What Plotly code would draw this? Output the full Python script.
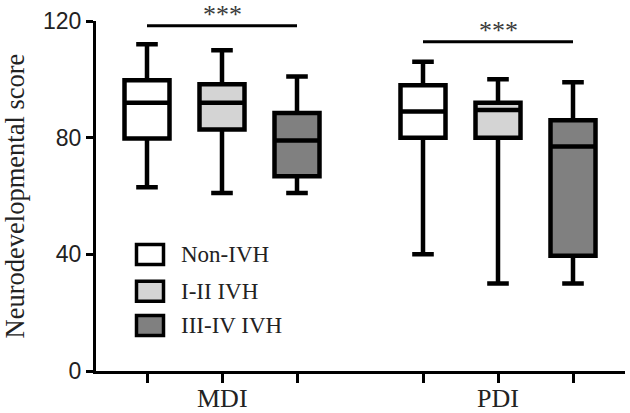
import plotly.graph_objects as go

# ---- data ----
groups = ["MDI", "PDI"]
series = ["Non-IVH", "I-II IVH", "III-IV IVH"]
fills = ["#ffffff", "#d4d4d4", "#808080"]

# per series: values for [MDI, PDI]
upper = [[112, 106], [110, 100], [101, 99]]
q3 = [[99.7, 98], [98.3, 92], [88.5, 86]]
median = [[92, 89], [92, 89.5], [79, 77]]
q1 = [[79.7, 80], [82.8, 80], [66.8, 39.5]]
lower = [[63, 40], [61, 30], [61, 30]]

sig_labels = ["***", "***"]
sig_heights = [118.4, 112.9]
yticks = [0, 40, 80, 120]

# ---- layout helpers ----
gap = 1.68
def pos(g, s):
    return g * (len(series) - 1 + gap) + s

fig = go.Figure()
for s, name in enumerate(series):
    fig.add_trace(go.Box(
        x=[pos(g, s) for g in range(len(groups))],
        q1=q1[s], median=median[s], q3=q3[s],
        lowerfence=lower[s], upperfence=upper[s],
        name=name, fillcolor=fills[s],
        line=dict(color="black", width=4.5),
        width=0.6, whiskerwidth=0.48,
        boxpoints=False, showlegend=False, hoverinfo="skip",
    ))

# significance bars
for g, (lab, h) in enumerate(zip(sig_labels, sig_heights)):
    x0, x1 = pos(g, 0), pos(g, len(series) - 1)
    fig.add_shape(type="line", x0=x0, x1=x1, y0=h, y1=h,
                  line=dict(color="black", width=3), xref="x", yref="y")
    fig.add_annotation(x=(x0 + x1) / 2, y=h, text=lab, showarrow=False,
                       yanchor="bottom", yshift=-5,
                       font=dict(family="Liberation Serif", size=26, color="#3a3a3a"))

W, H, L, T, B = 630, 413, 96, 21, 42
pw, ph = W - L - 5, H - T - B

# group labels under the middle tick of each group
for g, gname in enumerate(groups):
    fig.add_annotation(x=pos(g, 1), xref="x", yref="paper", y=-27.5 / ph,
                       text=gname, showarrow=False, yanchor="middle",
                       font=dict(family="Liberation Serif", size=26, color="#222222"))

# custom legend
leg_rows = [254.5, 291.3, 325.5]
for s, name in enumerate(series):
    cy = leg_rows[s]
    fig.add_shape(type="rect", xref="paper", yref="paper",
                  x0=(136.5 - L) / pw, x1=(163.5 - L) / pw,
                  y0=(H - B - (cy + 10)) / ph, y1=(H - B - (cy - 10)) / ph,
                  fillcolor=fills[s], line=dict(color="black", width=3.5))
    fig.add_annotation(xref="paper", yref="paper", x=(179 - L) / pw,
                       y=(H - B - cy) / ph, text=name, showarrow=False,
                       xanchor="left", yanchor="middle",
                       font=dict(family="Liberation Serif", size=23, color="#222222"))

tickvals = [pos(g, s) for g in range(len(groups)) for s in range(len(series))]

fig.update_layout(
    template="none",
    width=W, height=H,
    margin=dict(l=L, r=5, t=T, b=B, autoexpand=False),
    paper_bgcolor="white", plot_bgcolor="white",
    boxmode="overlay",
    xaxis=dict(range=[-0.68, -0.68 + pw / 75], tickvals=tickvals,
               ticktext=[""] * len(tickvals), automargin=False,
               ticks="outside", ticklen=9, tickwidth=3, tickcolor="black",
               showline=True, linecolor="black", linewidth=3,
               showgrid=False, zeroline=False),
    yaxis=dict(range=[0, 120], tickvals=yticks, automargin=False,
               ticks="outside", ticklen=7, tickwidth=3, tickcolor="black",
               showline=True, linecolor="black", linewidth=3,
               showgrid=False, zeroline=False,
               tickfont=dict(family="Liberation Sans", size=23, color="#222222"),
               title=dict(text="Neurodevelopmental score", standoff=11,
                          font=dict(family="Liberation Serif", size=26.5, color="#222222"))),
)

fig.write_html("out.html", config={"displayModeBar": False},
               post_script="document.body.style.margin='0';document.body.style.overflow='hidden';")
